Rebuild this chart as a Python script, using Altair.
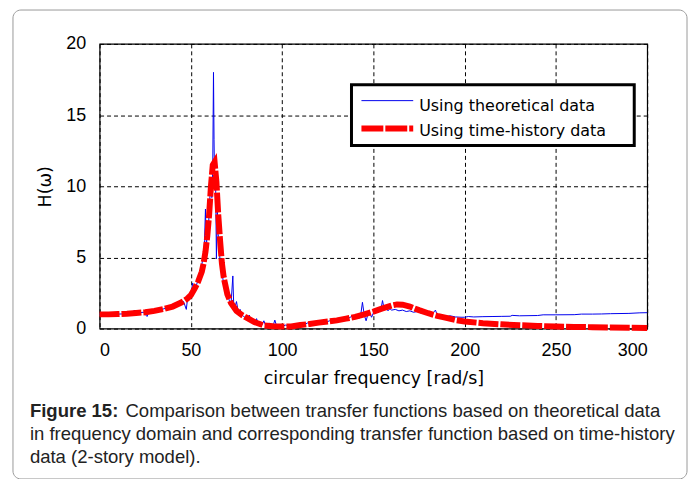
import altair as alt
import pandas as pd

# ---- data ----
blue_x = [0, 2, 4, 6, 8, 10, 12, 14, 16, 18, 19, 20, 22, 24, 26, 27, 28, 30, 31, 32, 34, 36, 37, 38, 40,
          42, 44, 46, 47.5, 48, 49, 50, 51, 52, 53, 54, 55, 56, 57, 57.5, 58, 58.5, 59, 59.5, 60, 60.5,
          61, 61.5, 62, 62.4, 62.7, 63, 63.5, 64, 64.5, 65, 65.5, 66, 67, 68, 69, 70, 71, 72, 73, 73.5,
          74, 75, 76, 77, 78, 79, 80, 81, 82, 83, 84, 85, 86, 87, 88, 89, 90, 91, 92, 93, 94, 95, 96,
          97, 98, 99, 100, 102, 104, 106, 108, 110, 112, 114, 116, 118, 120, 122, 124, 126, 128, 130,
          132, 134, 136, 138, 140, 141, 142, 143, 144, 145, 146, 147, 148, 149, 150, 151, 152, 153, 154,
          155, 156, 157, 158, 159, 160, 162, 164, 166, 168, 170, 172, 174, 176, 178, 180, 182, 184, 185,
          187, 190, 192, 195, 198, 200, 202, 205, 210, 215, 220, 225, 226, 230, 240, 243, 250, 260, 264,
          270, 275, 280, 290, 296, 300]
blue_y = [1.0, 1.0, 1.0, 1.01, 1.02, 1.02, 1.03, 1.05, 1.06, 1.08, 1.3, 1.1, 1.12, 1.15, 0.85, 1.18, 1.2,
          1.25, 1.38, 1.28, 1.35, 1.42, 1.58, 1.45, 1.55, 1.65, 1.75, 1.9, 1.35, 1.9, 2.2, 2.4, 3.2, 2.7,
          3.0, 3.5, 3.9, 4.5, 5.2, 6.2, 8.4, 5.6, 6.9, 6.4, 8.3, 9.4, 10.6, 9.2, 11.4, 18.0, 13.3, 10.2,
          11.0, 4.9, 8.2, 6.6, 5.6, 4.8, 4.0, 3.1, 2.8, 2.4, 2.0, 1.7, 3.7, 1.55, 1.45, 1.9, 1.15, 1.35,
          0.95, 0.85, 0.75, 0.65, 0.95, 0.5, 0.45, 0.38, 0.7, 0.32, 0.3, 0.27, 0.55, 0.22, 0.2, 0.4, 0.18,
          0.17, 0.6, 0.18, 0.2, 0.17, 0.16, 0.25, 0.18, 0.3, 0.22, 0.35, 0.28, 0.4, 0.33, 0.45, 0.4, 0.5,
          0.45, 0.55, 0.6, 0.65, 0.58, 0.75, 0.7, 0.85, 0.8, 1.0, 0.7, 0.9, 1.85, 0.95, 0.55, 1.0, 1.1,
          0.8, 1.1, 1.3, 1.2, 1.5, 1.25, 1.97, 1.3, 1.45, 1.25, 1.4, 1.3, 1.35, 1.25, 1.3, 1.2, 1.25, 1.15,
          1.2, 1.1, 1.1, 1.05, 1.0, 1.3, 0.95, 0.9, 0.85, 0.9, 0.82, 0.8, 0.8, 0.85, 0.82, 0.84, 0.85,
          0.86, 0.87, 0.93, 0.9, 0.92, 0.97, 0.97, 0.98, 1.02, 1.02, 1.03, 1.05, 1.07, 1.11, 1.12]

red_x = [0, 5, 10, 15, 20, 25, 30, 35, 40, 45, 48, 50, 52, 54, 56, 57, 58, 59, 60, 61, 62, 63, 64, 65,
         66, 67, 68, 70, 72, 75, 78, 80, 85, 90, 95, 100, 105, 110, 115, 120, 125, 130, 135, 140, 145,
         150, 155, 160, 163, 166, 170, 175, 180, 185, 190, 195, 200, 210, 220, 230, 240, 250, 260, 270,
         280, 290, 300]
red_y = [1.0, 1.0, 1.02, 1.05, 1.1, 1.15, 1.25, 1.38, 1.55, 1.85, 2.1, 2.35, 2.8, 3.3, 4.0, 4.6, 5.4,
         6.5, 8.0, 10.0, 11.5, 11.7, 10.3, 8.0, 6.2, 4.6, 3.6, 2.4, 1.8, 1.25, 0.95, 0.8, 0.45, 0.22, 0.17,
         0.15, 0.15, 0.25, 0.33, 0.42, 0.5, 0.58, 0.7, 0.83, 1.0, 1.2, 1.42, 1.62, 1.7, 1.68, 1.55, 1.3,
         1.08, 0.9, 0.75, 0.6, 0.5, 0.38, 0.3, 0.24, 0.19, 0.15, 0.12, 0.1, 0.08, 0.06, 0.05]

x_ticks = [0, 50, 100, 150, 200, 250, 300]
y_ticks = [0, 5, 10, 15, 20]

series_names = ["Using theoretical data", "Using time-history data"]
caption_lines = [
    "Figure 15:",
    "Comparison between transfer functions based on theoretical data",
    "in frequency domain and corresponding transfer function based on time-history",
    "data (2-story model).",
]

blue_df = pd.DataFrame({"w": blue_x, "h": blue_y})
red_df = pd.DataFrame({"w": red_x, "h": red_y})

W, H = 550, 286
GOTHIC = "DejaVu Sans"
ARIAL = "Liberation Sans"
CAP = 18.6

xs = alt.Scale(domain=[0, 300], nice=False)
ys = alt.Scale(domain=[0, 20], nice=False)

x_enc = alt.X("w:Q", scale=xs, axis=alt.Axis(
    values=x_ticks, title="circular frequency [rad/s]", grid=True, ticks=False,
    labelPadding=13, titlePadding=10, domain=False))
y_enc = alt.Y("h:Q", scale=ys, axis=alt.Axis(
    values=y_ticks, title="H(ω)", grid=True, ticks=False,
    labelPadding=14, titlePadding=11, domain=False))

blue = alt.Chart(blue_df).mark_line(color="#0000ee", strokeWidth=1).encode(x=x_enc, y=y_enc)
red = alt.Chart(red_df).mark_line(color="#ff0000", strokeWidth=6, strokeDash=[20, 2]).encode(
    x=alt.X("w:Q", scale=xs), y=alt.Y("h:Q", scale=ys))

one = pd.DataFrame({"k": [0]})

# outer rounded frame
frame = alt.Chart(one).mark_rect(cornerRadius=8, fillOpacity=0, stroke="#999999", strokeWidth=1).encode(
    x=alt.value(-87), x2=alt.value(590), y=alt.value(-34), y2=alt.value(437))

# legend box
leg_box = alt.Chart(one).mark_rect(fill="white", stroke="black", strokeWidth=3).encode(
    x=alt.value(253), x2=alt.value(537), y=alt.value(41), y2=alt.value(102))
leg_blue = alt.Chart(one).mark_rule(color="#0000ee", strokeWidth=1).encode(
    x=alt.value(263), x2=alt.value(315), y=alt.value(57))
leg_red = alt.Chart(one).mark_rule(color="#ff0000", strokeWidth=6, strokeDash=[22, 2]).encode(
    x=alt.value(263), x2=alt.value(315), y=alt.value(85))
leg_t1 = alt.Chart(one).mark_text(text=series_names[0], font=GOTHIC, fontSize=16, align="left",
                                  baseline="alphabetic", color="black").encode(
    x=alt.value(321), y=alt.value(67))
leg_t2 = alt.Chart(one).mark_text(text=series_names[1], font=GOTHIC, fontSize=16, align="left",
                                  baseline="alphabetic", color="black").encode(
    x=alt.value(321), y=alt.value(93))

# caption
cap0 = alt.Chart(one).mark_text(text=caption_lines[0], font=ARIAL, fontSize=CAP, fontWeight="bold",
                                align="left", baseline="alphabetic", color="#222222").encode(
    x=alt.value(-70), y=alt.value(375))
cap1 = alt.Chart(one).mark_text(text=caption_lines[1], font=ARIAL, fontSize=CAP, align="left",
                                baseline="alphabetic", color="#222222").encode(
    x=alt.value(26), y=alt.value(375))
cap2 = alt.Chart(one).mark_text(text=caption_lines[2], font=ARIAL, fontSize=CAP, align="left",
                                baseline="alphabetic", color="#222222").encode(
    x=alt.value(-70), y=alt.value(398))
cap3 = alt.Chart(one).mark_text(text=caption_lines[3], font=ARIAL, fontSize=CAP, align="left",
                                baseline="alphabetic", color="#222222").encode(
    x=alt.value(-70), y=alt.value(421))

chart = alt.layer(
    frame, blue, red, leg_box, leg_blue, leg_red, leg_t1, leg_t2, cap0, cap1, cap2, cap3
).properties(
    width=W, height=H,
    autosize=alt.AutoSizeParams(type="none"),
    padding={"left": 92, "top": 35, "right": 42, "bottom": 150},
    background="white",
).configure_view(
    stroke="black", strokeWidth=1.2
).configure_axis(
    gridColor="black", gridDash=[4, 3], gridWidth=1, gridOpacity=1,
    labelFont=ARIAL, labelFontSize=18, labelColor="black",
    titleFont=GOTHIC, titleFontSize=17.5, titleFontWeight="normal", titleColor="black",
)

chart.save("out.html", embed_options={"renderer": "svg", "actions": False})
